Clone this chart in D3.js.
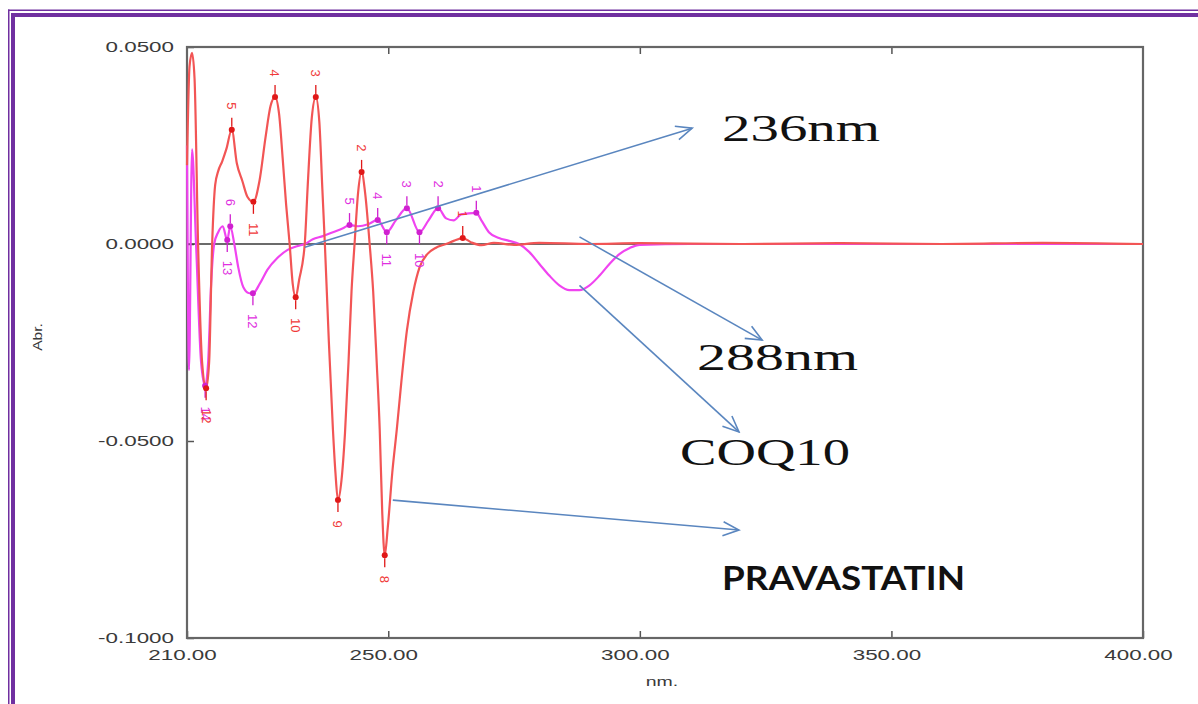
<!DOCTYPE html>
<html>
<head>
<meta charset="utf-8">
<script src="https://cdn.jsdelivr.net/npm/d3@7"></script>
<style>
    body { margin: 0; background: #fff; }
    svg { display: block; }
</style>
</head>
<body>
<script>
// First derivative spectra of Pravastatin and CoQ10

// Pravastatin (red) trace
var redWl = [210.0, 210.5, 211.0, 211.5, 212.2, 213.0, 213.8, 214.4, 215.0, 215.6, 216.2, 217.0,
    217.8, 218.9, 219.9, 221.0, 222.0, 223.2, 224.4, 225.6, 226.6, 227.5, 228.3, 229.0, 229.7,
    230.4, 231.0, 231.6, 232.3, 233.4, 234.0, 234.8, 235.6, 236.3, 236.9, 237.4, 238.2, 239.0,
    239.5, 240.0, 240.7, 241.4, 242.1, 242.7, 243.3, 244.0, 244.7, 245.4, 246.3, 247.0, 247.7,
    248.3, 248.8, 249.3, 249.9, 250.8, 251.7, 252.6, 253.7, 255.0, 256.2, 257.8, 259.4, 261.5,
    263.0, 264.8, 266.5, 268.5, 271.0, 275.0, 280.0, 290.0, 300.0, 320.0, 340.0, 360.0, 380.0, 400.0];
var redAbs = [0.020, 0.045, 0.0485, 0.042, 0.000, -0.030, -0.0366, -0.030, 0.000, 0.015, 0.0185, 0.021,
    0.024, 0.029, 0.0205, 0.016, 0.012, 0.0107, 0.016, 0.027, 0.035, 0.0373, 0.033, 0.022, 0.010,
    0.000, -0.010, -0.0135, -0.009, 0.000, 0.015, 0.032, 0.0373, 0.031, 0.014, 0.000, -0.025, -0.047,
    -0.058, -0.065, -0.060, -0.048, -0.030, -0.012, 0.000, 0.013, 0.0183, 0.013, 0.000, -0.012, -0.030,
    -0.047, -0.068, -0.079, -0.072, -0.058, -0.047, -0.035, -0.022, -0.012, -0.006, -0.0025, -0.001, 0.000,
    0.0008, 0.0015, 0.0004, -0.0003, 0.0003, -0.0002, 0.0003, 0.0000, 0.0002, 0.0000, 0.0002, 0.0000, 0.0003, 0.0000];

// CoQ10 (magenta) trace
var cqWl = [210.0, 210.4, 211.0, 211.8, 212.8, 213.6, 214.2, 214.8, 215.4, 216.2, 217.1, 218.0,
    218.6, 219.4, 220.2, 221.2, 222.4, 223.1, 224.5, 226.0, 228.0, 230.0, 232.0, 233.4, 235.0,
    237.0, 239.0, 241.0, 242.3, 244.0, 246.0, 247.9, 249.7, 251.5, 253.7, 256.2, 258.0, 259.9,
    261.5, 263.0, 264.5, 267.5, 268.5, 270.0, 272.0, 274.0, 276.0, 278.0, 280.0, 282.0, 284.0,
    286.0, 288.0, 290.0, 292.0, 294.0, 296.0, 298.0, 300.0, 310.0, 400.0];
var cqAbs = [0.025, -0.032, 0.024, 0.000, -0.030, -0.036, -0.030, -0.010, 0.000, 0.003, 0.0045, 0.001,
    0.0045, 0.000, -0.006, -0.011, -0.0125, -0.0125, -0.010, -0.0065, -0.0035, -0.0015, -0.0005, 0.000, 0.0012,
    0.002, 0.003, 0.004, 0.0048, 0.0045, 0.005, 0.0061, 0.003, 0.006, 0.0091, 0.003, 0.006, 0.0091,
    0.0065, 0.006, 0.0075, 0.0079, 0.006, 0.003, 0.0015, 0.0008, 0.000, -0.002, -0.005, -0.008, -0.0105,
    -0.0117, -0.0117, -0.0105, -0.008, -0.005, -0.0025, -0.001, -0.0002, 0.000, 0.000];

// Picked peaks / valleys with their numbers
var redPeakWl = [218.9, 227.5, 235.6, 244.7, 264.8];
var redPeakLabel = ["5", "4", "3", "2", "1"];
var redValleyWl = [213.8, 223.2, 231.6, 240.0, 249.3];
var redValleyLabel = ["12", "11", "10", "9", "8"];
var cqPeakWl = [218.6, 242.3, 247.9, 253.7, 259.9, 267.5];
var cqPeakLabel = ["6", "5", "4", "3", "2", "1"];
var cqValleyWl = [213.6, 218.0, 223.1, 249.7, 256.2];
var cqValleyLabel = ["14", "13", "12", "11", "10"];

// Axis ticks
var xTicks = [210, 250, 300, 350, 400];
var yTicks = [-0.1, -0.05, 0, 0.05];

// Annotation arrows: [from wl, from abs] -> [to wl, to abs]
var arrowFrom = [[233.4, -0.0008], [288.0, 0.0018], [288.0, -0.0105], [250.9, -0.065]];
var arrowTo = [[310.4, 0.0294], [324.3, -0.0244], [319.7, -0.0477], [319.7, -0.0726]];
var noteText = ["236nm", "288nm", "COQ10", "PRAVASTATIN"];

var W = 1198, H = 704;

var svg = d3.select("body").append("svg")
    .attr("width", W)
    .attr("height", H);

svg.append("rect").attr("width", W).attr("height", H).attr("fill", "#fff");

// purple double frame (top and left edge of the page)
var purple = "#7030a0";
svg.append("rect").attr("x", 8).attr("y", 9.5).attr("width", W).attr("height", 1.5).attr("fill", purple);
svg.append("rect").attr("x", 11).attr("y", 13).attr("width", W).attr("height", 4).attr("fill", purple);
svg.append("rect").attr("x", 8).attr("y", 9.5).attr("width", 1.5).attr("height", H).attr("fill", purple);
svg.append("rect").attr("x", 11).attr("y", 13).attr("width", 4).attr("height", H).attr("fill", purple);

var x = d3.scaleLinear().domain([210, 400]).range([187, 1143]);
var y = d3.scaleLinear().domain([-0.1, 0.05]).range([638, 47]);

// stretch a text horizontally like the original
function stretch(sel, k) {
    sel.attr("textLength", function () { return this.getComputedTextLength() * k; })
        .attr("lengthAdjust", "spacingAndGlyphs");
}

// Axes
var leftAxis = svg.append("g")
    .attr("transform", "translate(" + x(210) + ",0)")
    .call(d3.axisLeft(y).tickValues(yTicks).tickFormat(function (d) { return d.toFixed(4); })
        .tickSizeInner(-7).tickSizeOuter(0).tickPadding(13));
leftAxis.select(".domain").remove();
leftAxis.selectAll("line").attr("stroke", "#555").attr("stroke-width", 1.5);
leftAxis.selectAll("text")
    .attr("font-family", "Liberation Sans, Arial, sans-serif")
    .attr("font-size", 14)
    .attr("fill", "#3a3a3a")
    .call(stretch, 1.6);

var bottomAxis = svg.append("g")
    .attr("transform", "translate(0," + y(-0.1) + ")")
    .call(d3.axisBottom(x).tickValues(xTicks).tickFormat(function (d) { return d.toFixed(2); })
        .tickSizeInner(-7).tickSizeOuter(0).tickPadding(12));
bottomAxis.select(".domain").remove();
bottomAxis.selectAll("line").attr("stroke", "#555").attr("stroke-width", 1.5);
bottomAxis.selectAll("text")
    .attr("font-family", "Liberation Sans, Arial, sans-serif")
    .attr("font-size", 14)
    .attr("fill", "#3a3a3a")
    .attr("dx", -5)
    .call(stretch, 1.6);

var topAxis = svg.append("g")
    .attr("transform", "translate(0," + y(0.05) + ")")
    .call(d3.axisTop(x).tickValues(xTicks.slice(1, 4)).tickFormat("").tickSizeInner(-7).tickSizeOuter(0));
topAxis.select(".domain").remove();
topAxis.selectAll("line").attr("stroke", "#555").attr("stroke-width", 1.5);

// plot frame
svg.append("rect")
    .attr("x", x(210)).attr("y", y(0.05))
    .attr("width", x(400) - x(210)).attr("height", y(-0.1) - y(0.05))
    .attr("fill", "none").attr("stroke", "#666").attr("stroke-width", 2.2);

// zero line
svg.append("line")
    .attr("x1", x(210)).attr("x2", x(400))
    .attr("y1", y(0)).attr("y2", y(0))
    .attr("stroke", "#3a3a3a").attr("stroke-width", 1.6);

// axis titles
svg.append("text")
    .attr("transform", "translate(42," + 337 + ") rotate(-90)")
    .attr("text-anchor", "middle")
    .attr("font-family", "Liberation Sans, Arial, sans-serif")
    .attr("font-size", 12)
    .attr("fill", "#3a3a3a")
    .text("Abr.")
    .call(stretch, 1.3);

svg.append("text")
    .attr("x", 662).attr("y", 686)
    .attr("text-anchor", "middle")
    .attr("font-family", "Liberation Sans, Arial, sans-serif")
    .attr("font-size", 13)
    .attr("fill", "#3a3a3a")
    .text("nm.")
    .call(stretch, 1.5);

// spectra
var line = d3.line()
    .x(function (d) { return x(d[0]); })
    .y(function (d) { return y(d[1]); })
    .curve(d3.curveMonotoneX);

var cqData = cqWl.map(function (w, i) { return [w, cqAbs[i]]; });
var redData = redWl.map(function (w, i) { return [w, redAbs[i]]; });

svg.append("path")
    .datum(cqData)
    .attr("fill", "none")
    .attr("stroke", "#f044f0")
    .attr("stroke-width", 2.2)
    .attr("d", line);

svg.append("path")
    .datum(redData)
    .attr("fill", "none")
    .attr("stroke", "#f25555")
    .attr("stroke-width", 2.2)
    .attr("d", line);

// value of a trace at a picked wavelength
function valueAt(wls, vals, w) {
    var i = wls.indexOf(w);
    if (i >= 0) return vals[i];
    var j = d3.bisectLeft(wls, w);
    var t = (w - wls[j - 1]) / (wls[j] - wls[j - 1]);
    return vals[j - 1] + t * (vals[j] - vals[j - 1]);
}

// draw picked points: dot, short tick and rotated number
function drawPicks(wls, labels, traceWl, traceAbs, dir, dotColor, textColor) {
    var g = svg.append("g");
    wls.forEach(function (w, i) {
        var px = x(w), py = y(valueAt(traceWl, traceAbs, w));
        g.append("line")
            .attr("x1", px).attr("x2", px)
            .attr("y1", py - dir * 3).attr("y2", py - dir * 12)
            .attr("stroke", dotColor).attr("stroke-width", 1.3);
        g.append("circle")
            .attr("cx", px).attr("cy", py).attr("r", 3)
            .attr("fill", dotColor);
        g.append("text")
            .attr("transform", "translate(" + px + "," + (py - dir * (labels[i].length > 1 ? 28 : 24)) + ") rotate(90)")
            .attr("text-anchor", "middle")
            .attr("dy", "0.35em")
            .attr("font-family", "Liberation Sans, Arial, sans-serif")
            .attr("font-size", 13)
            .attr("fill", textColor)
            .text(labels[i]);
    });
}

drawPicks(cqPeakWl, cqPeakLabel, cqWl, cqAbs, 1, "#d020d0", "#e030e0");
drawPicks(cqValleyWl, cqValleyLabel, cqWl, cqAbs, -1, "#d020d0", "#e030e0");
drawPicks(redPeakWl, redPeakLabel, redWl, redAbs, 1, "#e01818", "#f03a3a");
drawPicks(redValleyWl, redValleyLabel, redWl, redAbs, -1, "#e01818", "#f03a3a");

// annotation arrows
var arrowColor = "#5a86bf";
svg.append("defs").append("marker")
    .attr("id", "head")
    .attr("viewBox", "0 0 20 20")
    .attr("refX", 18).attr("refY", 10)
    .attr("markerWidth", 20).attr("markerHeight", 20)
    .attr("markerUnits", "userSpaceOnUse")
    .attr("orient", "auto")
    .append("path")
    .attr("d", "M2,3 L18,10 L2,17")
    .attr("fill", "none")
    .attr("stroke", arrowColor)
    .attr("stroke-width", 1.6);

arrowFrom.forEach(function (a, i) {
    svg.append("line")
        .attr("x1", x(a[0])).attr("y1", y(a[1]))
        .attr("x2", x(arrowTo[i][0])).attr("y2", y(arrowTo[i][1]))
        .attr("stroke", arrowColor)
        .attr("stroke-width", 1.6)
        .attr("marker-end", "url(#head)");
});

// annotation texts
var notePos = [[722, 141], [697, 370], [680, 465], [722, 590]];
var noteWidth = [158, 161, 170, 243];
noteText.forEach(function (t, i) {
    var bold = t === "PRAVASTATIN";
    svg.append("text")
        .attr("x", notePos[i][0]).attr("y", notePos[i][1])
        .attr("font-family", bold ? "Lato, Liberation Sans, sans-serif" : "Liberation Serif, Times New Roman, serif")
        .attr("font-size", bold ? 32 : 38)
        .attr("font-weight", bold ? "bold" : "normal")
        .attr("fill", "#111")
        .attr("textLength", noteWidth[i])
        .attr("lengthAdjust", "spacingAndGlyphs")
        .text(t);
});
</script>
</body>
</html>
